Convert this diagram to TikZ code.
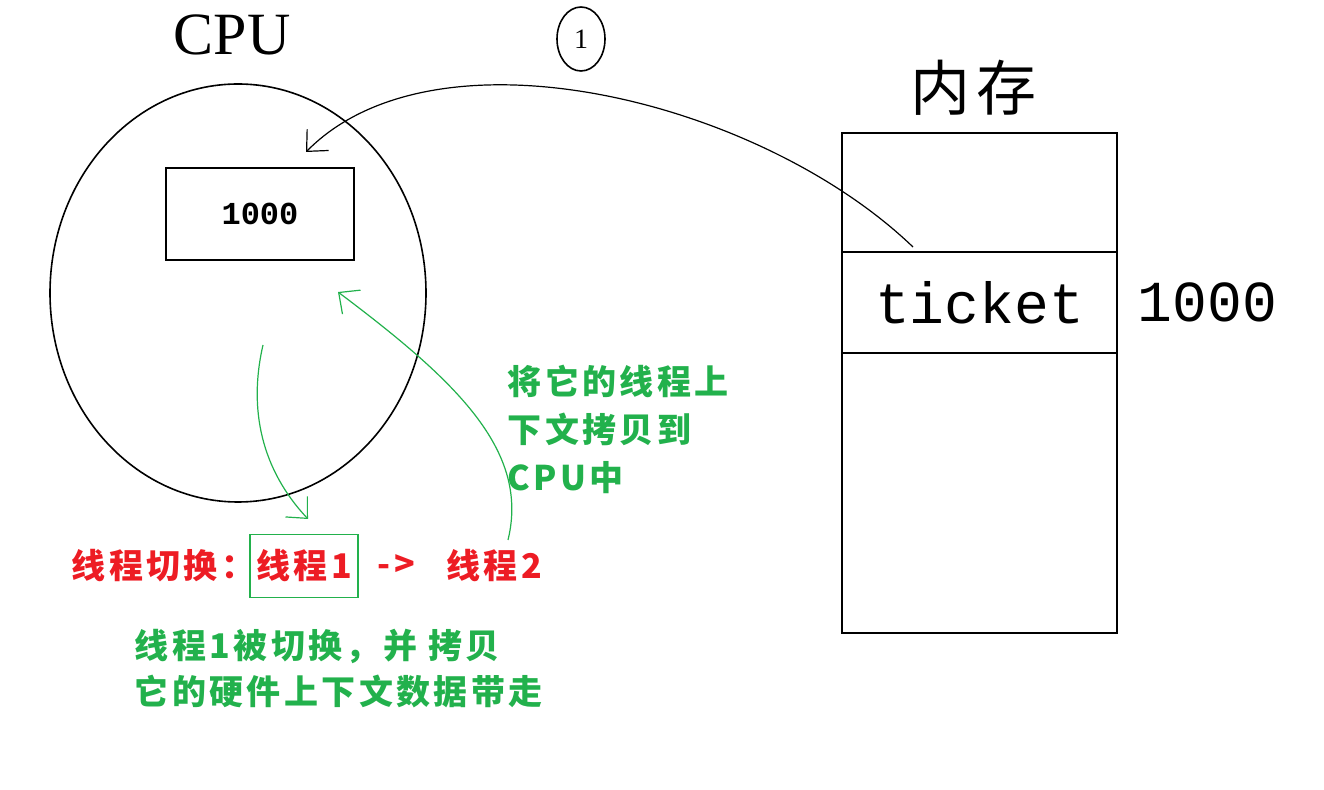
\documentclass[tikz,border=0pt]{standalone}
\usepackage{fontspec}
\setmainfont{Liberation Serif}
\newfontfamily\cjk[LetterSpace=10]{Noto Sans CJK SC}
\newfontfamily\latinmono{Liberation Mono}
\usepackage{xcolor}
\usepackage{tikz}
\usetikzlibrary{arrows.meta, positioning, shapes.geometric}
\definecolor{paintgreen}{HTML}{22B14C}
\definecolor{paintred}{HTML}{ED1C24}

\begin{document}
\begin{tikzpicture}[x=0.5pt, y=-0.5pt, line width=0.8pt, node distance=0pt,
  memcell/.style={draw, minimum width=137.5pt, outer sep=0pt, inner sep=0pt},
  greentext/.style={text=paintgreen, font=\cjk\bfseries\fontsize{17}{24}\selectfont, align=left, inner sep=0pt},
  redtext/.style={text=paintred, font=\cjk\bfseries\fontsize{17}{20}\selectfont, inner sep=0pt},
  barb/.style={-{Straight Barb[length=8pt, width=15pt]}, line width=0.6pt}]
  \useasboundingbox (0,0) rectangle (1324,790);

  % CPU side
  \node[draw, ellipse, minimum width=188pt, minimum height=209pt, inner sep=0pt] (cpu) at (238,293) {};
  \node[font=\fontsize{30}{30}\selectfont] (cpulabel) at (232,35) {CPU};
  \node[draw, minimum width=94pt, minimum height=46pt,
        font=\latinmono\bfseries\fontsize{16}{16}\selectfont] (reg) at (260,214) {1000};

  % memory
  \node[memcell, minimum height=59.5pt, anchor=north west] (memtop) at (842,133) {};
  \node[memcell, minimum height=50.5pt, below=of memtop,
        font=\latinmono\fontsize{29}{29}\selectfont] (ticket) {ticket};
  \node[memcell, minimum height=140pt, below=of ticket] (membot) {};
  \node[right=10pt of ticket, inner sep=0pt, font=\latinmono\fontsize{29}{29}\selectfont] (ticketval) {1000};
  \node[font=\cjk\fontsize{30}{30}\selectfont] (memlabel) at (973,88) {内存};

  % step marker and copy arrow
  \node[draw, ellipse, minimum width=24pt, minimum height=32pt, inner sep=0pt,
        font=\fontsize{14}{14}\selectfont] (step1) at (581,39) {1};
  \coordinate (src) at (913,247);
  \coordinate (dst) at (306,152);
  \draw[barb] (src) .. controls (760,100) and (436,20) .. (dst);

  % context switch arrows
  \coordinate (outs) at (263,345);
  \coordinate (oute) at (308,519);
  \draw[barb, paintgreen] (outs) .. controls (248,410) and (262,470) .. (oute);
  \coordinate (ins) at (508,540);
  \coordinate (ine) at (338,292);
  \draw[barb, paintgreen] (ins) .. controls (530,450) and (455,380) .. (ine);

  \node[greentext, anchor=north west] (loadnote) at (507,364) {将它的线程上\\下文拷贝到\\CPU中};

  % thread switch line
  \node[redtext, anchor=west] (switch) at (71,566) {线程切换：};
  \node[redtext, draw=paintgreen, minimum width=54pt, minimum height=31.5pt] (th1) at (304,566) {线程1};
  \node[redtext, right=9pt of th1] (swarrow) {->};
  \node[redtext, right=15pt of swarrow] (th2) {线程2};

  \node[greentext, anchor=north west, font=\cjk\bfseries\fontsize{17}{23}\selectfont]
       (savenote) at (134,628) {线程1被切换，并 拷贝\\它的硬件上下文数据带走};
\end{tikzpicture}
\end{document}
